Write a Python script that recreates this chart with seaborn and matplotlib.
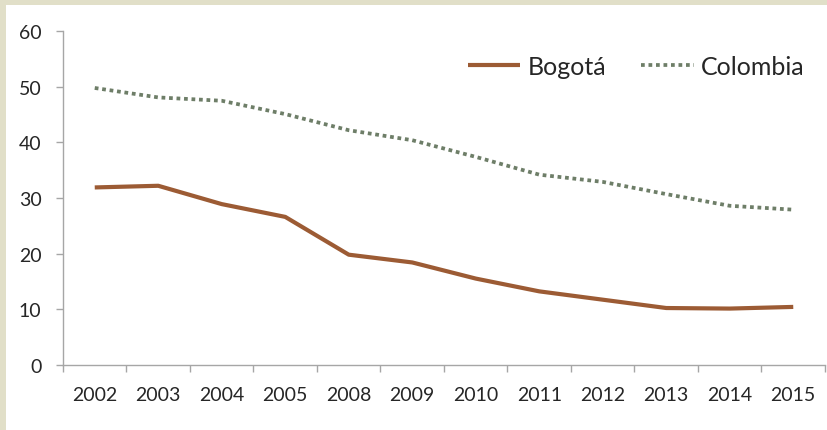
import matplotlib
matplotlib.use("Agg")
import matplotlib.pyplot as plt
import seaborn as sns
import pandas as pd
from matplotlib.patches import Rectangle
from matplotlib.ticker import FixedLocator, NullFormatter

# values
years = ["2002", "2003", "2004", "2005", "2008", "2009", "2010",
         "2011", "2012", "2013", "2014", "2015"]
bogota = [31.9, 32.2, 28.9, 26.6, 19.8, 18.4, 15.5, 13.2, 11.7, 10.2, 10.1, 10.4]
colombia = [49.8, 48.1, 47.5, 45.1, 42.2, 40.4, 37.4, 34.2, 32.9, 30.7, 28.6, 27.9]

df = pd.DataFrame({"year": years, "Bogotá": bogota, "Colombia": colombia})

sns.set_style("white")
plt.rcParams["font.family"] = ["Lato", "DejaVu Sans"]

fig = plt.figure(figsize=(8.28, 4.31), dpi=100, facecolor="#E1DFC8")
# white plot area, beige border only on left and top
fig.add_artist(Rectangle((6 / 828, 0), 1, 1 - 6 / 431, transform=fig.transFigure,
                         facecolor="white", edgecolor="none", zorder=-10))
ax = fig.add_axes([63 / 828, 65.3 / 431, 762 / 828, 333.4 / 431])
ax.set_facecolor("none")

sns.lineplot(data=df, x="year", y="Bogotá", ax=ax, color="#9C5B34", lw=3,
             sort=False, label="Bogotá", solid_capstyle="butt")
sns.lineplot(data=df, x="year", y="Colombia", ax=ax, color="#6E7E68", lw=2.7,
             sort=False, label="Colombia", linestyle=(0, (1, 1)), dash_capstyle="butt")

ax.set_xlim(-0.5, len(years) - 0.5)
ax.set_ylim(0, 60)
ax.set_yticks(range(0, 61, 10))
ax.set_xlabel("")
ax.set_ylabel("")

# ticks between categories, labels in the middle
ax.set_xticks(range(len(years)), minor=True)
ax.set_xticklabels(years, minor=True)
ax.xaxis.set_major_locator(FixedLocator([i - 0.5 for i in range(len(years) + 1)]))
ax.xaxis.set_major_formatter(NullFormatter())
ax.tick_params(axis="x", which="major", direction="out", length=5, width=1,
               color="#A6A6A6", bottom=True)
ax.tick_params(axis="x", which="minor", length=0, labelsize=14, pad=15)
ax.tick_params(axis="y", direction="out", length=5, width=1, color="#A6A6A6",
               left=True, labelsize=14, pad=10.5)

for s in ["top", "right"]:
    ax.spines[s].set_visible(False)
for s in ["left", "bottom"]:
    ax.spines[s].set_color("#A6A6A6")
    ax.spines[s].set_linewidth(1)

ax.legend(loc="center right", bbox_to_anchor=(805 / 828, (431 - 67.7) / 431),
          bbox_transform=fig.transFigure, ncol=2, frameon=False, fontsize=18,
          handlelength=2.1, handletextpad=0.3, columnspacing=1.4,
          borderpad=0, borderaxespad=0)

fig.savefig("out.png", dpi=100, facecolor=fig.get_facecolor())
